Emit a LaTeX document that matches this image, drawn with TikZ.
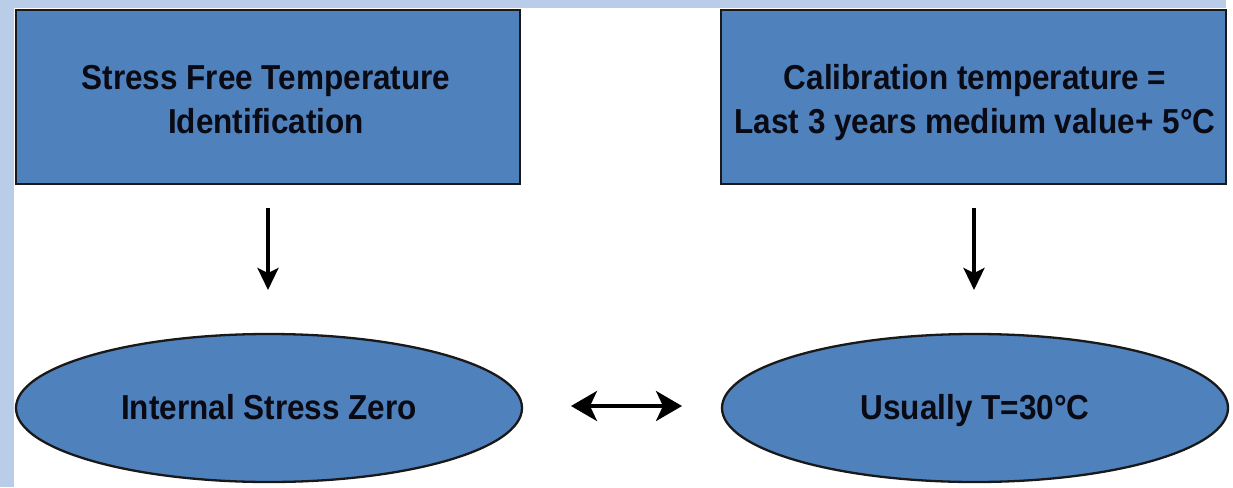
\documentclass[tikz,border=0pt]{standalone}
\usepackage{fontspec}
\setmainfont{Liberation Sans}
\usetikzlibrary{shapes.geometric,arrows.meta}
\definecolor{bandblue}{HTML}{B9CCE8}
\definecolor{boxblue}{HTML}{4F81BD}
\definecolor{txt}{HTML}{0A0A14}
\newcommand\stretchtext[1]{\scalebox{1}[1.1]{\begin{tabular}{@{}c@{}}#1\end{tabular}}}
\begin{document}
\begin{tikzpicture}[x=1pt,y=-1pt,
  lbl/.style={font=\bfseries\fontsize{31.5}{40}\selectfont,align=center,text=txt},
  boxst/.style={draw=black!90,line width=2.3pt,fill=boxblue},
  arr/.style={line width=3.5pt,-{Stealth[length=22pt,width=21pt,inset=5pt]}},
  darr/.style={line width=3.5pt,{Stealth[length=26pt,width=30pt,inset=7pt]}-{Stealth[length=26pt,width=30pt,inset=7pt]}}]
\useasboundingbox (0,0) rectangle (1233,487);
\fill[white] (0,0) rectangle (1233,487);
\fill[bandblue] (0,0) rectangle (14,487);
\fill[bandblue] (0,0) rectangle (1226,8);
\draw[boxst] (16,10) rectangle (520,184);
\draw[boxst] (721,10) rectangle (1226,184);
\node[lbl] (a) at (266,102.5) {\stretchtext{Stress Free Temperature\\Identification}};
\node[lbl] (b) at (975,102.5) {\stretchtext{Calibration temperature =\\Last 3 years medium value+ 5°C}};
\node[boxst,ellipse,minimum width=506pt,minimum height=148pt,inner sep=0pt,lbl] (c) at (269,408) {\raisebox{-3pt}[\height][\depth]{\stretchtext{Internal Stress Zero}}};
\node[boxst,ellipse,minimum width=506pt,minimum height=148pt,inner sep=0pt,lbl] (d) at (975,408) {\raisebox{-3pt}[\height][\depth]{\stretchtext{Usually T=30°C}}};
\coordinate (a1) at (268,208); \coordinate (a2) at (268,290);
\coordinate (b1) at (974,208); \coordinate (b2) at (974,290);
\coordinate (m1) at (571,406); \coordinate (m2) at (682,406);
\draw[arr] (a1) -- (a2);
\draw[arr] (b1) -- (b2);
\draw[darr] (m1) -- (m2);
\end{tikzpicture}
\end{document}
